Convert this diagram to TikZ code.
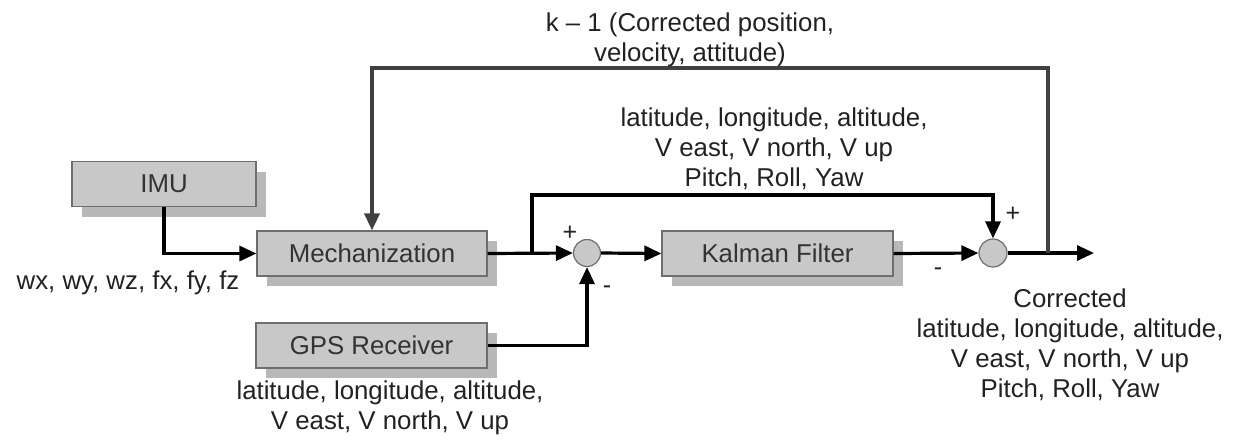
\documentclass[tikz,border=0pt]{standalone}
\usepackage{fontspec}
\setmainfont{Liberation Sans}
\usetikzlibrary{positioning, arrows.meta, shadows}

\definecolor{boxgray}{HTML}{C8C8C8}
\definecolor{boxedge}{HTML}{6E6E6E}
\definecolor{boxtext}{HTML}{333333}
\definecolor{shadowgray}{HTML}{B8B8B8}
\definecolor{loopgray}{HTML}{404040}

\begin{document}
\begin{tikzpicture}[x=0.5pt, y=-0.5pt,
    block/.style={draw=boxedge, fill=boxgray, text=boxtext, line width=0.6pt,
      minimum height=22.5pt, inner sep=0pt, font=\fontsize{12.9}{15}\selectfont,
      drop shadow={shadow xshift=5pt, shadow yshift=-5pt, fill=shadowgray, opacity=1}},
    sumnode/.style={circle, draw=boxedge, fill=boxgray, line width=0.6pt,
      minimum size=13.5pt, inner sep=0pt},
    sig/.style={line width=1.6pt, -{Triangle[length=8.5pt, width=7.5pt]}},
    note/.style={align=center, text=black!87, font=\fontsize{12.9}{15}\selectfont},
    sign/.style={text=black!87, font=\fontsize{12.5}{14}\selectfont}]
    \useasboundingbox (0,0) rectangle (1235,440);

    % blocks
    \node[block, minimum width=92pt]   (imu)    at (164,184)     {IMU};
    \node[block, minimum width=115pt]  (mech)   at (372,253.5)   {Mechanization};
    \node[block, minimum width=115.5pt] (gps)   at (371.5,345.5) {GPS Receiver};
    \node[block, minimum width=115.5pt] (kalman) at (777.5,253.5) {Kalman Filter};
    \node[sumnode]                     (sumA)   at (587,253)     {};
    \node[sumnode, minimum size=14pt]  (sumB)   at (993,253)     {};

    % free ends
    \coordinate (branch) at (532,253);
    \coordinate (tap)    at (1048,253);
    \coordinate (out)    at (1094,253);

    % signals
    \draw[sig] (imu.south) |- (mech.west);
    \draw[sig] (mech.east) -- (sumA.west);
    \draw[sig] (branch) -- ++(0,-58) -| (sumB.north);
    \draw[sig] (gps.east) -| (sumA.south);
    \draw[sig] (sumA.east) -- (kalman.west);
    \draw[sig] (kalman.east) -- (sumB.west);
    \draw[sig] (sumB.east) -- (out);
    \draw[sig, color=loopgray, line width=1.8pt] (tap) -- ++(0,-185) -| (mech.north);

    % labels
    \node[note] (rates)  at (128,283) {wx, wy, wz, fx, fy, fz};
    \node[note] (prev)   at (690,40)  {k – 1 (Corrected position,\\velocity, attitude)};
    \node[note] (ins)    at (774,149) {latitude, longitude, altitude,\\V east, V north, V up\\Pitch, Roll, Yaw};
    \node[note] (gpsout) at (390,408) {latitude, longitude, altitude,\\V east, V north, V up};
    \node[note] (fixed)  at (1070,345) {Corrected\\latitude, longitude, altitude,\\V east, V north, V up\\Pitch, Roll, Yaw};

    % signs
    \node[sign] (plusA)  at (570,233)  {+};
    \node[sign] (minusA) at (607,290)  {-};
    \node[sign] (plusB)  at (1013,214) {+};
    \node[sign] (minusB) at (938,272)  {-};
\end{tikzpicture}
\end{document}
